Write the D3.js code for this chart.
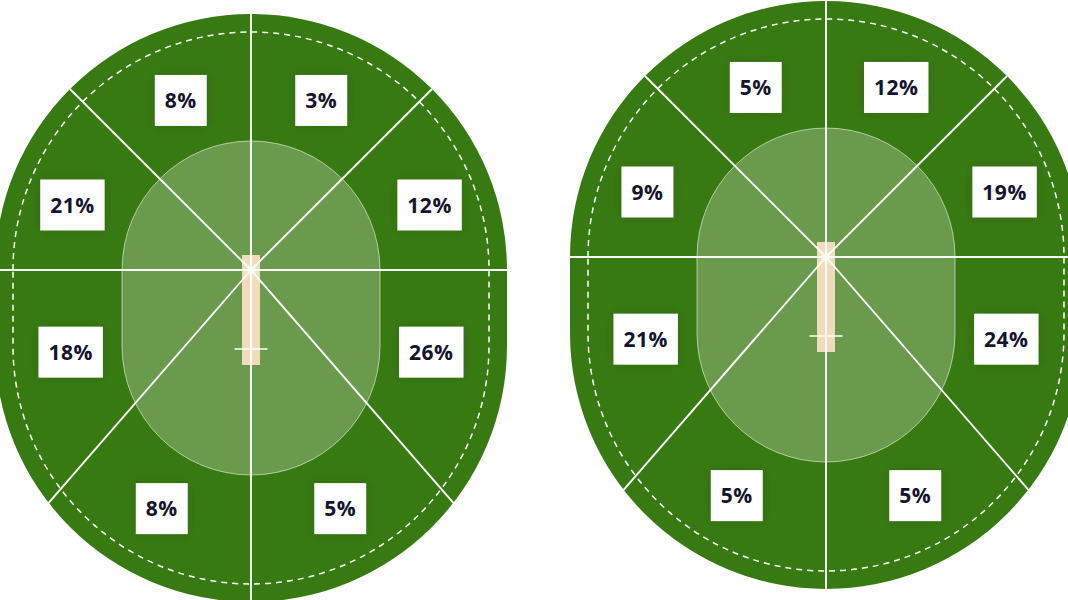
<!DOCTYPE html>
<html><head><meta charset="utf-8">
<script src="https://cdn.jsdelivr.net/npm/d3@7"></script>
<style>html,body{margin:0;padding:0;background:#fff;overflow:hidden}</style>
</head><body>
<svg id="chart" width="1068" height="600"></svg>
<script>
// ---- data ----
const zones = ["Straight leg side", "Mid-wicket", "Square leg", "Fine leg", "Third man", "Point", "Cover", "Straight off side"];
const zoneStartDeg = [-90, -45, 0, 49, 90, 131, 180, 225];
const zoneEndDeg   = [-45, 0, 49, 90, 131, 180, 225, 270];
const fieldNames = ["Field A", "Field B"];
const shareA = [3, 12, 26, 5, 8, 18, 21, 8];
const shareB = [12, 19, 24, 5, 5, 21, 9, 5];

// ---- layout (not data) ----
const labelAngleDeg = [-67.5, -20, 24.5, 69.5, 110.5, 155.5, 200, 247.5];
const labelWeight   = [0.5, 0.56, 0.48, 0.52, 0.52, 0.48, 0.56, 0.5];
const G = { inner: 129/256, dashed: 238/256, off: 76/256,
  pitchHalfW: 9/256, pitchTop: -15/256, pitchBottom: 95/256,
  crease: 79/256, creaseHalf: 16.5/256 };
const fieldsLayout = [
  { name: fieldNames[0], cx: 251, cy: 270, R: 256, values: shareA },
  { name: fieldNames[1], cx: 826, cy: 257, R: 256, values: shareB }
];
const C = { field: "#387a12", inner: "rgba(255,255,255,0.25)", line: "#ffffff",
  pitch: "#f0dcbb", text: "#14142e" };

const svg = d3.select("#chart");
const defs = svg.append("defs");
const sh = defs.append("filter").attr("id","shadow").attr("x","-60%").attr("y","-60%").attr("width","220%").attr("height","220%");
sh.append("feDropShadow").attr("dx",0).attr("dy",0).attr("stdDeviation",7)
  .attr("flood-color","#000").attr("flood-opacity",0.13);
const gl = defs.append("filter").attr("id","glow").attr("x","-200%").attr("y","-200%").attr("width","500%").attr("height","500%");
gl.append("feGaussianBlur").attr("stdDeviation",2);

function reach(ux, uy, r, d) {
  if (uy <= 1e-9) return r;
  if (Math.abs(ux) > 1e-9) { const t = r/Math.abs(ux); if (t*uy <= d) return t; }
  const b = d*uy; return b + Math.sqrt(b*b - d*d + r*r);
}

fieldsLayout.forEach(F => {
  const sx = d3.scaleLinear().domain([-1,1]).range([F.cx - F.R, F.cx + F.R]);
  const sy = d3.scaleLinear().domain([-1,1]).range([F.cy - F.R, F.cy + F.R]);
  const px = r => sx(r) - sx(0);
  const stadium = r => {
    const p = d3.path(), rr = px(r), o = px(G.off);
    p.moveTo(F.cx - rr, F.cy);
    p.arc(F.cx, F.cy, rr, Math.PI, 2*Math.PI);
    p.lineTo(F.cx + rr, F.cy + o);
    p.arc(F.cx, F.cy + o, rr, 0, Math.PI);
    p.closePath();
    return p.toString();
  };
  const g = svg.append("g").attr("class","field");
  g.append("path").attr("d", stadium(1)).attr("fill", C.field);
  g.append("path").attr("d", stadium(G.inner)).attr("fill", C.inner)
    .attr("stroke","rgba(255,255,255,0.55)").attr("stroke-width",1);
  g.append("path").attr("d", stadium(G.dashed)).attr("fill","none")
    .attr("stroke", C.line).attr("stroke-width",1.5).attr("stroke-dasharray","6,5");
  g.append("rect").attr("x", sx(-G.pitchHalfW)).attr("y", sy(G.pitchTop))
    .attr("width", sx(G.pitchHalfW) - sx(-G.pitchHalfW))
    .attr("height", sy(G.pitchBottom) - sy(G.pitchTop)).attr("fill", C.pitch);

  g.selectAll("line.sector").data(zoneStartDeg).join("line").attr("class","sector")
    .attr("x1", sx(0)).attr("y1", sy(0))
    .attr("x2", d => { const a = d*Math.PI/180, ux = Math.cos(a), uy = Math.sin(a);
      return sx(ux * reach(ux, uy, 1, G.off)); })
    .attr("y2", d => { const a = d*Math.PI/180, ux = Math.cos(a), uy = Math.sin(a);
      return sy(uy * reach(ux, uy, 1, G.off)); })
    .attr("stroke", C.line).attr("stroke-width", 1.9);

  g.append("line").attr("x1", sx(-G.creaseHalf)).attr("x2", sx(G.creaseHalf))
    .attr("y1", sy(G.crease)).attr("y2", sy(G.crease))
    .attr("stroke", C.line).attr("stroke-width", 1.5);
  g.append("circle").attr("cx", sx(0)).attr("cy", sy(0)).attr("r", 4)
    .attr("fill","#fff").attr("opacity",0.9).attr("filter","url(#glow)");

  const lab = g.selectAll("g.lab").data(F.values.map((v,i) => ({v, i, zone: zones[i]})))
    .join("g").attr("class","lab")
    .attr("transform", d => {
      const a = labelAngleDeg[d.i] * Math.PI/180;
      const ux = Math.cos(a), uy = Math.sin(a);
      const r1 = reach(ux, uy, G.inner, G.off), r2 = reach(ux, uy, G.dashed, G.off);
      const t = r1 + labelWeight[d.i] * (r2 - r1);
      return `translate(${sx(ux*t)},${sy(uy*t)})`;
    });
  const rects = lab.append("rect").attr("fill","#fff").attr("filter","url(#shadow)");
  const texts = lab.append("text").attr("text-anchor","middle").attr("y", 7.5)
    .attr("font-family","'Open Sans', 'Noto Sans', sans-serif").attr("font-weight",700)
    .attr("font-size", 21).attr("letter-spacing", 0.5).attr("fill", C.text).text(d => d.v + "%");
  texts.each(function(d) { d.w = this.getComputedTextLength(); });
  rects.attr("x", d => -(d.w + 20)/2).attr("width", d => d.w + 20)
    .attr("y", -25.5).attr("height", 51);
});
</script>
</body></html>
